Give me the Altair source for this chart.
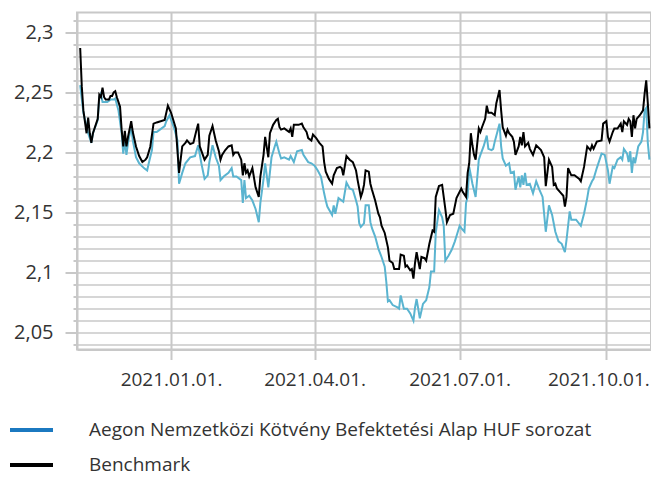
import altair as alt
import pandas as pd

START = "2020-11-03"  # day 0 of the day counts below

bench_days = [2,3,4,6,7,8,9,10,13,14,15,16,17,18,20,21,22,23,24,25,27,28,29,30,31,32,34,35,37,39,
              41,43,44,46,48,50,55,57,59,62,64,66,68,69,71,73,75,76,77,80,82,83,85,87,89,90,91,93,95,97,
              98,99,101,103,104,105,106,107,108,110,112,114,115,117,118,120,121,123,125,126,127,128,130,133,134,135,136,139,141,142,
              144,145,147,148,150,152,154,155,156,158,160,161,163,165,166,167,168,169,171,173,175,176,178,179,180,181,183,184,185,187,
              189,190,191,193,195,196,198,199,202,203,205,206,207,209,210,211,212,213,214,215,216,218,219,221,223,224,225,227,229,231,
              232,234,236,238,241,242,244,245,246,247,248,249,250,252,253,254,256,257,258,260,262,263,265,266,267,269,270,271,273,274,
              275,277,278,279,280,281,283,284,286,288,291,293,294,296,298,299,300,301,303,305,306,307,308,310,312,315,316,318,320,322,
              323,324,326,329,330,332,333,334,336,337,339,341,342,343,345,346,347,348,349,350,351,353,355,356,357,358,359]
bench_values = [2.287,2.255,2.235,2.216,2.229,2.216,2.208,2.216,2.228,2.248,2.246,2.254,2.246,2.244,2.244,2.247,2.247,2.250,2.251,2.246,
                2.238,2.219,2.205,2.218,2.205,2.213,2.226,2.217,2.205,2.197,2.192,2.194,2.196,2.205,2.224,2.225,2.227,2.239,2.233,2.220,
                2.183,2.205,2.208,2.210,2.207,2.208,2.219,2.224,2.205,2.194,2.198,2.214,2.222,2.210,2.201,2.194,2.198,2.202,2.205,2.206,
                2.198,2.200,2.200,2.194,2.181,2.191,2.183,2.185,2.180,2.187,2.171,2.163,2.180,2.198,2.213,2.196,2.216,2.223,2.227,2.228,
                2.221,2.219,2.220,2.217,2.220,2.213,2.223,2.223,2.224,2.221,2.217,2.212,2.210,2.215,2.212,2.208,2.205,2.192,2.184,2.178,
                2.174,2.181,2.187,2.188,2.187,2.181,2.189,2.197,2.194,2.192,2.185,2.177,2.163,2.167,2.173,2.185,2.184,2.174,2.169,2.160,
                2.149,2.146,2.139,2.133,2.121,2.110,2.108,2.103,2.103,2.115,2.114,2.105,2.106,2.102,2.103,2.095,2.108,2.117,2.110,2.103,
                2.113,2.112,2.110,2.124,2.135,2.134,2.163,2.172,2.173,2.153,2.142,2.148,2.149,2.162,2.170,2.167,2.163,2.183,2.191,2.216,
                2.206,2.198,2.194,2.220,2.217,2.221,2.228,2.239,2.233,2.233,2.231,2.241,2.252,2.235,2.221,2.214,2.219,2.216,2.213,2.209,
                2.198,2.205,2.213,2.206,2.217,2.205,2.208,2.203,2.198,2.206,2.202,2.196,2.172,2.194,2.188,2.173,2.174,2.170,2.167,2.164,
                2.155,2.163,2.187,2.181,2.181,2.178,2.176,2.188,2.205,2.202,2.206,2.203,2.209,2.210,2.224,2.226,2.213,2.209,2.217,2.220,
                2.220,2.224,2.217,2.226,2.223,2.228,2.226,2.213,2.231,2.220,2.228,2.231,2.235,2.249,2.260,2.241,2.220]

fund_days = [2,4,7,9,10,13,14,15,16,19,21,23,24,26,28,29,30,31,32,34,35,37,39,42,44,45,47,48,50,52,
             55,56,58,59,61,63,64,66,68,71,74,76,78,80,82,83,85,87,89,90,92,95,97,98,100,103,104,105,106,108,
             110,112,114,115,117,118,120,122,124,125,127,128,130,133,134,136,138,141,142,145,147,149,151,153,155,156,157,160,161,162,
             164,166,167,169,171,173,175,176,177,178,180,181,183,184,185,187,189,191,193,194,195,196,198,201,202,203,205,207,209,211,
             212,213,214,215,217,219,221,222,224,225,227,229,230,231,233,235,237,240,241,243,244,245,246,248,250,252,253,255,257,258,
             260,261,262,265,266,267,269,271,272,274,275,277,278,279,280,281,282,284,286,288,290,292,294,296,298,300,302,304,306,307,
             309,310,313,316,318,320,321,323,324,326,329,331,333,334,336,337,339,341,342,343,345,346,347,348,349,350,352,354,355,356,
             357,358,359]
fund_values = [2.256,2.233,2.216,2.208,2.216,2.227,2.246,2.249,2.242,2.242,2.244,2.244,2.245,2.235,2.216,2.199,2.210,2.198,2.208,2.222,
               2.210,2.196,2.191,2.187,2.185,2.191,2.202,2.217,2.217,2.219,2.222,2.226,2.231,2.227,2.220,2.210,2.174,2.183,2.191,2.196,
               2.197,2.206,2.191,2.178,2.181,2.192,2.206,2.196,2.189,2.177,2.180,2.183,2.187,2.180,2.180,2.177,2.158,2.177,2.162,2.164,
               2.160,2.153,2.142,2.158,2.178,2.191,2.171,2.196,2.205,2.209,2.199,2.195,2.196,2.194,2.197,2.192,2.201,2.202,2.198,2.192,
               2.191,2.189,2.185,2.180,2.166,2.160,2.155,2.148,2.156,2.149,2.162,2.160,2.159,2.175,2.170,2.169,2.160,2.155,2.141,2.138,
               2.141,2.156,2.156,2.142,2.137,2.130,2.120,2.113,2.105,2.092,2.076,2.077,2.073,2.071,2.070,2.081,2.070,2.070,2.066,2.060,
               2.071,2.078,2.070,2.062,2.074,2.077,2.088,2.101,2.101,2.133,2.152,2.146,2.139,2.110,2.114,2.119,2.126,2.139,2.137,2.134,
               2.158,2.163,2.188,2.174,2.163,2.194,2.198,2.205,2.214,2.203,2.202,2.203,2.209,2.224,2.205,2.195,2.189,2.191,2.183,2.184,
               2.169,2.180,2.171,2.181,2.173,2.183,2.173,2.174,2.166,2.176,2.169,2.163,2.134,2.156,2.148,2.134,2.126,2.124,2.117,2.127,
               2.151,2.144,2.144,2.139,2.149,2.162,2.170,2.176,2.178,2.187,2.199,2.198,2.185,2.174,2.188,2.187,2.194,2.196,2.194,2.203,
               2.199,2.192,2.201,2.183,2.196,2.191,2.205,2.209,2.217,2.235,2.237,2.208,2.194]

series_names = ["Aegon Nemzetközi Kötvény Befektetési Alap HUF sorozat", "Benchmark"]
line_colors = ["#5ab4d0", "#000000"]
legend_colors = ["#1b79c0", "#000000"]

y_ticks = [2.04, 2.05, 2.06, 2.07, 2.08, 2.09, 2.10, 2.11, 2.12, 2.13, 2.14, 2.15, 2.16, 2.17,
           2.18, 2.19, 2.20, 2.21, 2.22, 2.23, 2.24, 2.25, 2.26, 2.27, 2.28, 2.29, 2.30, 2.31]
y_labels = ["2.05", "2.1", "2.15", "2.2", "2.25", "2.3"]
x_ticks = ["2021-01-01", "2021-04-01", "2021-07-01", "2021-10-01"]

assert len(bench_days) == len(bench_values)
assert len(fund_days) == len(fund_values)

start = pd.Timestamp(START)
df = pd.concat([
    pd.DataFrame({"date": start + pd.to_timedelta(fund_days, unit="D"), "value": fund_values, "series": series_names[0]}),
    pd.DataFrame({"date": start + pd.to_timedelta(bench_days, unit="D"), "value": bench_values, "series": series_names[1]}),
])

major = "indexof(" + str(y_labels) + ", format(datum.value, '.2~f')) >= 0"
GRID = "#c8c8c8"
TXT = "#333333"
FONT = "Open Sans"

xvals = [alt.DateTime(year=int(d[:4]), month=int(d[5:7]), date=int(d[8:10])) for d in x_ticks]

x_enc = alt.X("date:T",
              scale=alt.Scale(domain=[alt.DateTime(year=2020, month=11, date=3),
                                      alt.DateTime(year=2021, month=10, date=29)]),
              axis=alt.Axis(values=xvals, format="%Y.%m.%d.", title=None, grid=True,
                            gridColor=GRID, gridWidth=2, tickColor=GRID, tickWidth=2, tickSize=10,
                            domainColor=GRID, domainWidth=2, labelFontSize=19, labelColor=TXT,
                            labelFont=FONT, labelPadding=11, labelOverlap=False,
                            # keep the last label inside the canvas
                            labelOffset={"condition": {"test": "month(datum.value) == 9", "value": -8},
                                         "value": 0}))
y_enc = alt.Y("value:Q",
              scale=alt.Scale(domain=[2.036, 2.3165], nice=False, zero=False),
              axis=alt.Axis(values=y_ticks, title=None, grid=True, gridColor=GRID, gridWidth=1.5,
                            labelExpr=major + " ? replace(format(datum.value, '.2~f'), '.', ',') : ''",
                            tickSize={"condition": {"test": major, "value": 12}, "value": 4},
                            tickColor=GRID, tickWidth=2, domainColor=GRID, domainWidth=2,
                            labelFontSize=20, labelColor=TXT, labelFont=FONT, labelPadding=12))

base = alt.Chart(df)

# the stroke scale lists the series in reverse order so that its legend is not merged with the colour legend
lines = base.mark_line(strokeWidth=2, clip=True).encode(
    x=x_enc, y=y_enc,
    stroke=alt.Stroke("series:N", scale=alt.Scale(domain=series_names[::-1], range=line_colors[::-1]),
                      legend=None),
)

# legend only (no marks drawn): the legend swatches use the darker legend colours
legend_layer = base.mark_line(strokeWidth=4).encode(
    x=x_enc, y=y_enc,
    color=alt.Color("series:N",
                    scale=alt.Scale(domain=series_names, range=legend_colors),
                    legend=alt.Legend(title=None, orient="none", legendX=-69, legendY=394,
                                      direction="vertical", symbolType="stroke",
                                      symbolSize=1849, symbolStrokeWidth=4, labelOffset=34,
                                      labelFontSize=19, labelColor=TXT, labelFont=FONT,
                                      labelLimit=800, rowPadding=1)),
).transform_filter("false")

chart = alt.layer(lines, legend_layer).properties(
    width=574, height=337,
    autosize=alt.AutoSizeParams(type="none"),
    padding={"left": 69, "top": 4.5, "right": 0, "bottom": 126.5},
).configure_view(stroke=GRID, strokeWidth=2)

chart.save("out.html", embed_options={"renderer": "svg", "actions": False})
